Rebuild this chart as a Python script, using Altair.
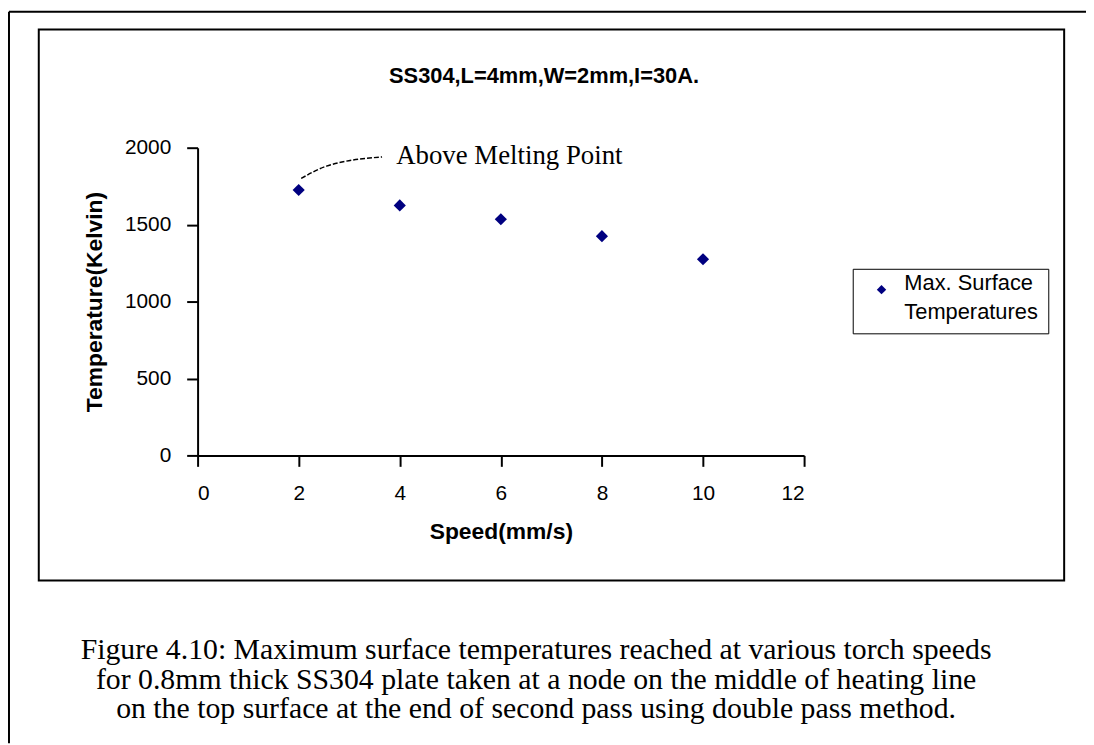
import altair as alt
import pandas as pd

# ---- data ----
speed = [2, 4, 6, 8, 10]
temperature = [1725, 1625, 1535, 1425, 1275]
series_name = "Max. Surface Temperatures"

x_ticks = [0, 2, 4, 6, 8, 10, 12]
y_ticks = [0, 500, 1000, 1500, 2000]

# annotation leader (data coordinates) and label
leader_x = [2.05, 2.55, 3.65]
leader_y = [1800, 1880, 1940]
note_x = [3.93]
note_y = [1948]
note_text = ["Above Melting Point"]

chart_title = "SS304,L=4mm,W=2mm,I=30A."
caption_lines = [
    "Figure 4.10: Maximum surface temperatures reached at various torch speeds",
    "for 0.8mm thick SS304 plate taken at a node on the middle of heating line",
    "on the top surface at the end of second pass using double pass method.",
]

W, H = 611, 310

df = pd.DataFrame({"speed": speed, "temp": temperature, "series": [series_name] * len(speed)})
lead = pd.DataFrame({"x": leader_x, "y": leader_y, "o": list(range(len(leader_x)))})
note = pd.DataFrame({"x": note_x, "y": note_y, "t": note_text})
one = pd.DataFrame({"a": [0]})

xscale = alt.Scale(domain=[0, 12], nice=False, zero=True)
yscale = alt.Scale(domain=[0, 2000], nice=False)

points = alt.Chart(df).mark_point(shape="diamond", filled=True, size=150, opacity=1).encode(
    x=alt.X("speed:Q", scale=xscale,
            axis=alt.Axis(values=x_ticks, title="Speed(mm/s)", grid=False, format="d",
                          labelFontSize=21, labelPadding=16, tickSize=11,
                          titleFontSize=23, titlePadding=18)),
    y=alt.Y("temp:Q", scale=yscale,
            axis=alt.Axis(values=y_ticks, title="Temperature(Kelvin)", grid=False, format="d",
                          labelFontSize=21, labelPadding=16, tickSize=11,
                          titleFontSize=23, titlePadding=18)),
    color=alt.Color("series:N", scale=alt.Scale(domain=[series_name], range=["#000080"]),
                    legend=alt.Legend(title=None, orient="none", legendX=660, legendY=122,
                                      labelExpr="['Max. Surface', 'Temperatures']",
                                      strokeColor="black", fillColor="white", padding=10,
                                      symbolType="diamond", symbolSize=90, symbolOffset=8,
                                      labelFont="Liberation Sans", labelFontSize=22,
                                      labelColor="black", labelOffset=12,
                                      labelBaseline="alphabetic")),
)

leader = alt.Chart(lead).mark_line(color="black", strokeWidth=1.5, strokeDash=[5, 2],
                                   interpolate="monotone").encode(
    x=alt.X("x:Q", scale=xscale), y=alt.Y("y:Q", scale=yscale), order="o:Q")

note_mark = alt.Chart(note).mark_text(align="left", baseline="middle", font="Liberation Serif",
                                      fontSize=27, color="black").encode(
    x=alt.X("x:Q", scale=xscale), y=alt.Y("y:Q", scale=yscale), text="t:N")

title_mark = alt.Chart(one).mark_text(text=chart_title, font="Liberation Sans", fontWeight="bold",
                                      fontSize=22, align="center", baseline="middle",
                                      color="black").encode(
    x=alt.value(349), y=alt.value(-72))

caption_mark = alt.Chart(one).mark_text(text=caption_lines, font="Liberation Serif", fontSize=30,
                                        lineHeight=30, align="center", baseline="middle",
                                        color="black").encode(
    x=alt.value(341), y=alt.value(506))

inner_frame = alt.Chart(one).mark_rect(fillOpacity=0, stroke="black", strokeWidth=2).encode(
    x=alt.value(-160), x2=alt.value(873), y=alt.value(-119), y2=alt.value(436))

outer_top = alt.Chart(one).mark_rule(color="black", strokeWidth=2).encode(
    x=alt.value(-190), x2=alt.value(900), y=alt.value(-137))
outer_left = alt.Chart(one).mark_rule(color="black", strokeWidth=2).encode(
    x=alt.value(-190), y=alt.value(-137), y2=alt.value(600))

chart = alt.layer(
    outer_top, outer_left, inner_frame, title_mark, caption_mark, leader, note_mark, points
).properties(
    width=W, height=H,
    autosize=alt.AutoSizeParams(type="none"),
    padding={"left": 191, "top": 138, "right": 284, "bottom": 289},
    background="white",
).configure(
    style={"guide-label": {"lineHeight": 30}}
).configure_view(
    stroke="transparent"
).configure_axis(
    domainColor="black", domainWidth=2, tickColor="black", tickWidth=2,
    labelColor="black", titleColor="black",
    labelFont="Liberation Sans", titleFont="Liberation Sans", titleFontWeight="bold",
)

chart.save("out.html", embed_options={"renderer": "svg", "actions": False})
